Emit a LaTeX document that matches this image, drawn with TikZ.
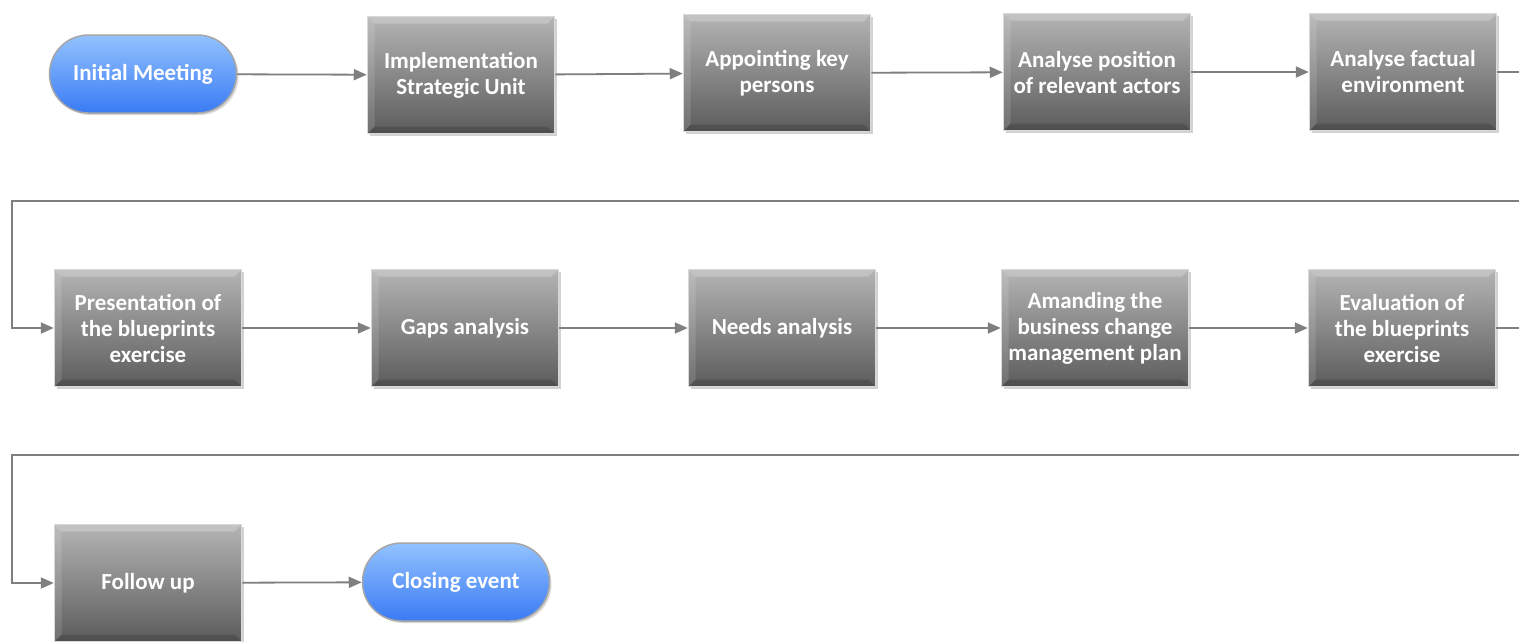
\documentclass[tikz,border=0pt]{standalone}
\usepackage{fontspec}
\setmainfont{Carlito}
\usetikzlibrary{arrows.meta,shadows,shapes.misc}
\definecolor{boxtop}{HTML}{B4B4B4}
\definecolor{boxbot}{HTML}{5C5C5C}
\definecolor{pilltop}{HTML}{92C2FF}
\definecolor{pillbot}{HTML}{3A7BF4}
\definecolor{linegray}{HTML}{7F7F7F}
\tikzset{
  stepbox/.style={rectangle, minimum width=187pt, minimum height=117pt, inner sep=0pt,
    top color=boxtop, bottom color=boxbot, draw=gray!30, line width=1.5pt,
    drop shadow={opacity=0.35, shadow xshift=2pt, shadow yshift=-2pt},
    text=white, font=\fontsize{23}{26}\selectfont\bfseries, align=center,
    path picture={
      \fill[white,opacity=0.22] (path picture bounding box.north west) -- (path picture bounding box.north east)
        -- ([xshift=-7pt,yshift=-7pt]path picture bounding box.north east) -- ([xshift=7pt,yshift=-7pt]path picture bounding box.north west) -- cycle;
      \fill[black,opacity=0.15] (path picture bounding box.south west) -- (path picture bounding box.south east)
        -- ([xshift=-7pt,yshift=7pt]path picture bounding box.south east) -- ([xshift=7pt,yshift=7pt]path picture bounding box.south west) -- cycle;
      \fill[white,opacity=0.12] (path picture bounding box.north west) -- (path picture bounding box.south west)
        -- ([xshift=7pt,yshift=7pt]path picture bounding box.south west) -- ([xshift=7pt,yshift=-7pt]path picture bounding box.north west) -- cycle;
    }},
  pill/.style={rounded rectangle, minimum width=187pt, minimum height=78pt, inner sep=0pt,
    top color=pilltop, bottom color=pillbot, draw=gray!70, line width=1.5pt,
    drop shadow={opacity=0.3, shadow xshift=2pt, shadow yshift=-2pt},
    text=white, font=\fontsize{23}{26}\selectfont\bfseries, align=center},
  conn/.style={draw=linegray, line width=1.8pt, -{Triangle[length=13pt,width=11pt]}},
  plain/.style={draw=linegray, line width=1.8pt}
}
\begin{document}
\begin{tikzpicture}[x=1pt,y=-1pt]
\useasboundingbox[fill=white] (0,0) rectangle (1519,641);
% row 1
\node[pill] (init) at (143,74) {Initial Meeting};
\node[stepbox] (impl) at (461,75) {Implementation\\Strategic Unit};
\node[stepbox] (appt) at (777,73) {Appointing key\\persons};
\node[stepbox] (apos) at (1097,72) {Analyse position\\of relevant actors};
\node[stepbox] (afac) at (1403,72) {Analyse factual\\environment};
% row 2
\node[stepbox] (pres) at (148,328) {Presentation of\\the blueprints\\exercise};
\node[stepbox] (gaps) at (465,328) {Gaps analysis};
\node[stepbox] (need) at (782,328) {Needs analysis};
\node[stepbox] (amnd) at (1095,328) {Amanding the\\business change\\management plan};
\node[stepbox] (eval) at (1402,328) {Evaluation of\\the blueprints\\exercise};
% row 3
\node[stepbox] (foll) at (148,583) {Follow up};
\node[pill] (clos) at (456,582) {Closing event};
% coordinates
\coordinate (r1e) at (1519,72);
\coordinate (r1r) at (1519,201);
\coordinate (r1c) at (12,201);
\coordinate (r2e) at (1519,328);
\coordinate (r2r) at (1519,455);
\coordinate (r2c) at (12,455);
% connectors
\draw[conn] (init) -- (impl);
\draw[conn] (impl) -- (appt);
\draw[conn] (appt) -- (apos);
\draw[conn] (apos) -- (afac);
\draw[plain] (afac.east) -- (r1e);
\draw[conn] (r1r) -- (r1c) |- (pres.west);
\draw[conn] (pres) -- (gaps);
\draw[conn] (gaps) -- (need);
\draw[conn] (need) -- (amnd);
\draw[conn] (amnd) -- (eval);
\draw[plain] (eval.east) -- (r2e);
\draw[conn] (r2r) -- (r2c) |- (foll.west);
\draw[conn] (foll) -- (clos);
\end{tikzpicture}
\end{document}
